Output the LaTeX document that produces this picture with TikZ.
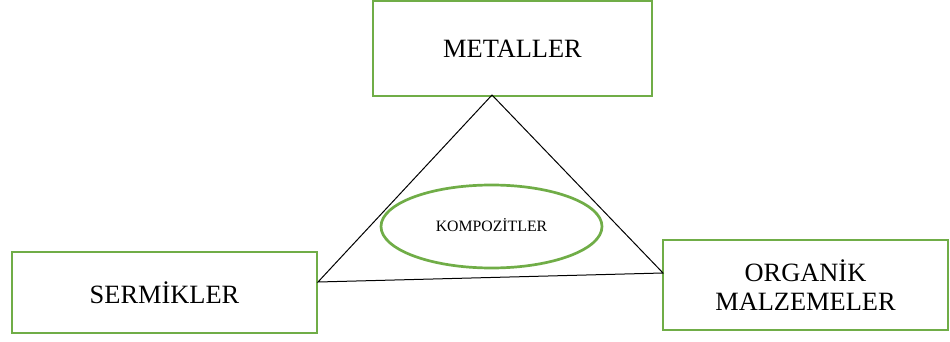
\documentclass[tikz,border=0pt]{standalone}
\usepackage{fontspec}
\setmainfont{Liberation Serif}
\usetikzlibrary{shapes.geometric}
\definecolor{boxgreen}{HTML}{70AD47}
\tikzset{
  matbox/.style={draw=boxgreen, line width=2.7pt, fill=white, rectangle, inner sep=0pt,
    font=\fontsize{26.4}{29}\selectfont, align=center},
  compell/.style={draw=boxgreen, line width=2.7pt, fill=white, ellipse, inner sep=0pt,
    minimum width=221pt, minimum height=83pt, font=\fontsize{15.8}{18}\selectfont},
  tri/.style={draw=black, line width=1pt, line join=miter}
}
\begin{document}
\begin{tikzpicture}[x=1pt,y=-1pt]
\useasboundingbox (0,0) rectangle (950,342);
\node[matbox, minimum width=279pt, minimum height=95pt] (met) at (512.5,48.5) {METALLER};
\node[matbox, minimum width=305pt, minimum height=81pt] (ser) at (164.5,292.5) {SERMİKLER};
\node[matbox, minimum width=285pt, minimum height=90pt] (org) at (805.5,285) {ORGANİK\\MALZEMELER};
\coordinate (apex) at (492,95);
\coordinate (lv) at (318,282);
\coordinate (rv) at (663,273);
\draw[tri] (apex) -- (lv) -- (rv) -- cycle;
\node[compell] (komp) at (491.5,226.5) {\raisebox{3pt}{KOMPOZİTLER}};
\end{tikzpicture}
\end{document}
